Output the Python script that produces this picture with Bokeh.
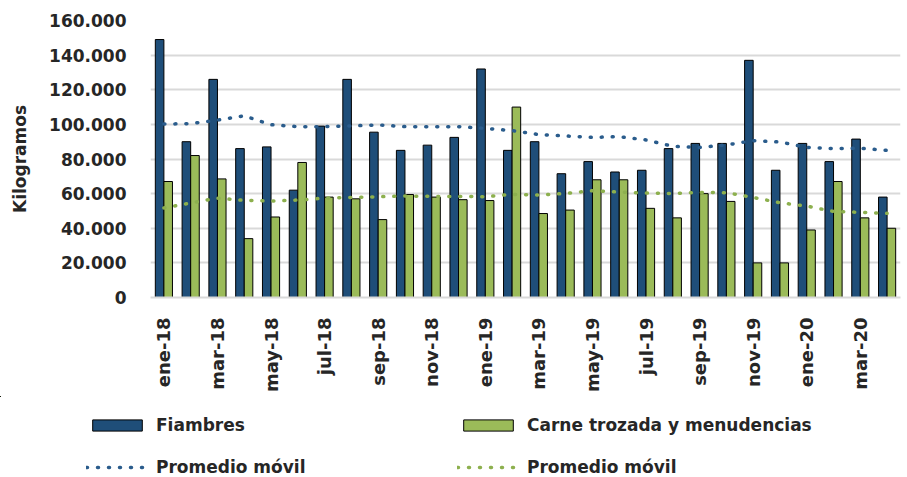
import math
from bokeh.plotting import figure
from bokeh.layouts import column, row
from bokeh.models import ColumnDataSource, Range1d, FixedTicker, Legend, LegendItem
from bokeh.embed import file_html
from bokeh.resources import INLINE

months = ["ene-18", "feb-18", "mar-18", "abr-18", "may-18", "jun-18", "jul-18", "ago-18",
          "sep-18", "oct-18", "nov-18", "dic-18", "ene-19", "feb-19", "mar-19", "abr-19",
          "may-19", "jun-19", "jul-19", "ago-19", "sep-19", "oct-19", "nov-19", "dic-19",
          "ene-20", "feb-20", "mar-20", "abr-20"]

fiambres = [149000, 90000, 126000, 86000, 87000, 62000, 99000, 126000,
            95500, 85000, 88000, 92500, 132000, 85000, 90000, 71500,
            78500, 72500, 73500, 86000, 89000, 89000, 137000, 73500,
            89000, 78500, 91500, 58000]

carne = [67000, 82000, 68500, 34000, 46500, 78000, 58000, 57000,
         45000, 59500, 58000, 56500, 56000, 110000, 48500, 50500,
         68000, 68000, 51500, 46000, 60000, 55500, 20000, 20000,
         39000, 67000, 46000, 40000]

prom_fiambres = [100200, 100400, 102500, 104900, 99800, 98700, 98700, 99100,
                 99700, 98700, 98700, 98700, 97700, 96400, 94100, 93300,
                 92500, 92900, 91000, 87300, 86700, 88100, 90600, 89800,
                 86700, 86000, 86200, 85000]

prom_carne = [51700, 54600, 57400, 56100, 55700, 56300, 57400, 57800,
              58200, 58600, 58400, 58400, 58200, 59600, 59200, 60100,
              61700, 60900, 60300, 60100, 60700, 60500, 57800, 54700,
              52800, 49700, 49200, 48600]

y_ticks = [0, 20000, 40000, 60000, 80000, 100000, 120000, 140000, 160000]
y_tick_labels = ["0", "20.000", "40.000", "60.000", "80.000", "100.000", "120.000", "140.000", "160.000"]

series_names = ["Fiambres", "Carne trozada y menudencias", "Promedio móvil", "Promedio móvil"]

BLUE = "#1F4E79"
GREEN = "#9BBB59"
BLUE_DOT = "#2A5C8C"
GREEN_DOT = "#8DB04E"
TEXT = "#262626"
FONT = "DejaVu Sans"

idx = list(range(len(months)))
src = ColumnDataSource(dict(
    x=idx,
    xb=[i - 0.16 for i in idx],
    xg=[i + 0.16 for i in idx],
    fiambres=fiambres,
    carne=carne,
    pf=prom_fiambres,
    pc=prom_carne,
))

bar_f = dict(fill_color=BLUE, line_color="black", line_width=1)
bar_c = dict(fill_color=GREEN, line_color="black", line_width=1)
dot_f = dict(line_color=BLUE_DOT, line_width=3.5, line_dash="1 10", line_cap="round")
dot_c = dict(line_color=GREEN_DOT, line_width=3.5, line_dash="1 10", line_cap="round")

p = figure(width=901, height=396, output_backend="svg", toolbar_location=None,
           x_range=Range1d(-0.5, len(months) - 0.5), y_range=Range1d(0, 160000),
           min_border_left=150, min_border_right=1, min_border_top=20, min_border_bottom=99)
p.outline_line_color = None

p.vbar(x="xb", top="fiambres", width=0.32, source=src, **bar_f)
p.vbar(x="xg", top="carne", width=0.32, source=src, **bar_c)
p.line(x="x", y="pf", source=src, **dot_f)
p.line(x="x", y="pc", source=src, **dot_c)

# grid
p.xgrid.grid_line_color = None
p.ygrid.ticker = FixedTicker(ticks=y_ticks)
p.ygrid.grid_line_color = "#D9D9D9"
p.ygrid.grid_line_width = 2

# y axis
yax = p.yaxis[0]
yax.ticker = FixedTicker(ticks=y_ticks)
yax.major_label_overrides = {t: l for t, l in zip(y_ticks, y_tick_labels)}
yax.axis_line_color = None
yax.major_tick_line_color = None
yax.minor_tick_line_color = None
yax.major_label_standoff = 18
yax.major_label_text_font = FONT
yax.major_label_text_font_style = "bold"
yax.major_label_text_font_size = "17px"
yax.major_label_text_color = TEXT
yax.axis_label = "Kilogramos"
yax.axis_label_text_font = FONT
yax.axis_label_text_font_style = "bold"
yax.axis_label_text_font_size = "17px"
yax.axis_label_text_color = TEXT
yax.axis_label_standoff = 16

# x axis
even = idx[::2]
xax = p.xaxis[0]
xax.ticker = FixedTicker(ticks=even)
xax.major_label_overrides = {i: months[i] for i in even}
xax.major_label_orientation = math.pi / 2
xax.axis_line_color = "#D9D9D9"
xax.axis_line_width = 2
xax.major_tick_line_color = None
xax.minor_tick_line_color = None
xax.major_label_standoff = 14
xax.major_label_text_font = FONT
xax.major_label_text_font_style = "bold"
xax.major_label_text_font_size = "18px"
xax.major_label_text_color = TEXT

# legend panel below the chart (its renderers use the same data, kept out of view)
lg = figure(width=901, height=81, output_backend="svg", toolbar_location=None,
            x_range=Range1d(60, 90), y_range=Range1d(-300000, -200000),
            x_axis_type=None, y_axis_type=None,
            min_border_left=0, min_border_right=0, min_border_top=0, min_border_bottom=0)
lg.outline_line_color = None
lg.xgrid.grid_line_color = None
lg.ygrid.grid_line_color = None
l_f = lg.vbar(x="xb", top="fiambres", width=0.32, source=src, **bar_f)
l_c = lg.vbar(x="xg", top="carne", width=0.32, source=src, **bar_c)
l_pf = lg.line(x="x", y="pf", source=src, **dot_f)
l_pc = lg.line(x="x", y="pc", source=src, **dot_c)

legend = Legend(items=[
    LegendItem(label=series_names[0], renderers=[l_f]),
    LegendItem(label=series_names[1], renderers=[l_c]),
    LegendItem(label=series_names[2], renderers=[l_pf]),
    LegendItem(label=series_names[3], renderers=[l_pc]),
], location=(86, 0), orientation="horizontal", ncols=2)
legend.glyph_width = 62
legend.glyph_height = 14
legend.label_standoff = 8
legend.label_width = 279
legend.label_height = 17
legend.spacing = 22
legend.padding = 0
legend.margin = 0
legend.border_line_color = None
legend.background_fill_alpha = 0
legend.label_text_font = FONT
legend.label_text_font_style = "bold"
legend.label_text_font_size = "17px"
legend.label_text_color = TEXT
lg.add_layout(legend, "center")

open("out.html", "w").write(file_html(column(p, row(lg)), INLINE))
